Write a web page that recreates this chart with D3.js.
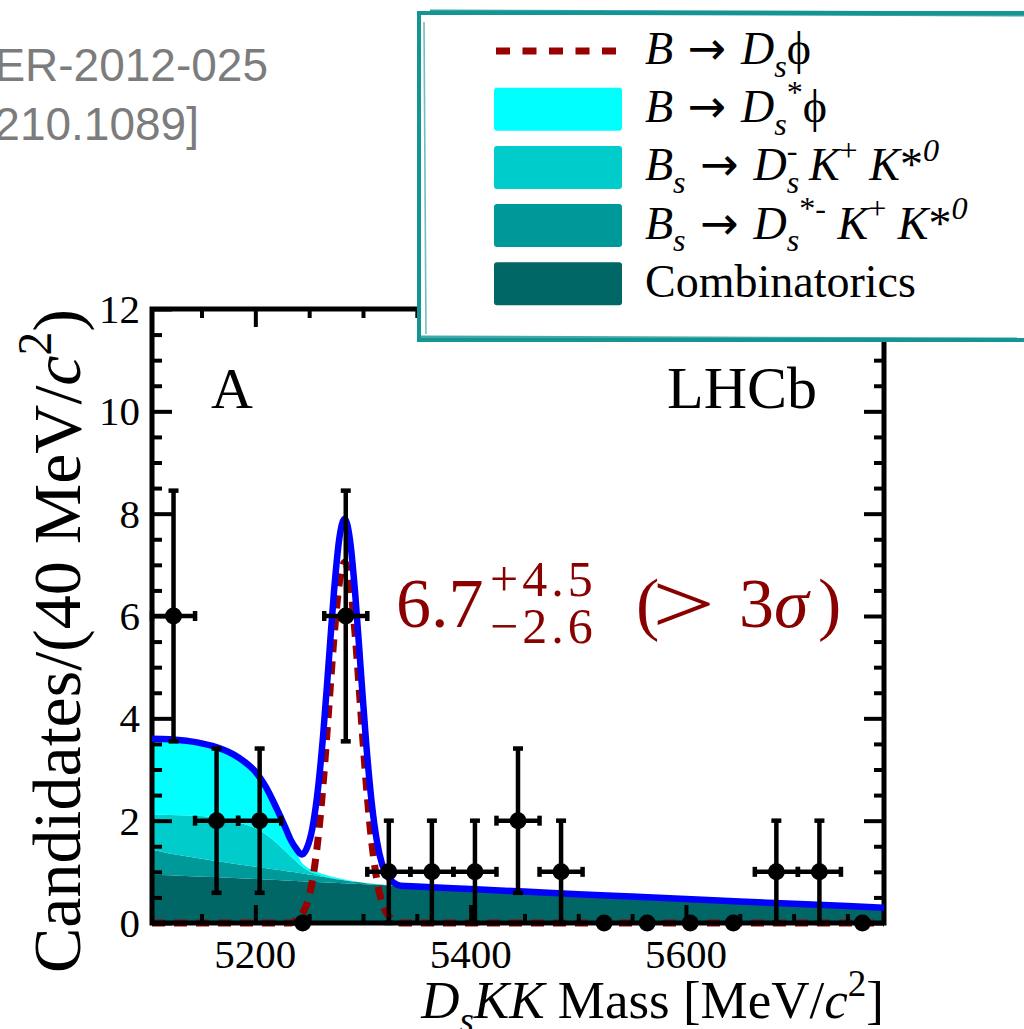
<!DOCTYPE html>
<html><head><meta charset="utf-8">
<script src="https://cdn.jsdelivr.net/npm/d3@7"></script>
<style>body{margin:0;background:#fff} svg{display:block} text{white-space:pre}</style>
</head><body><svg id="c" width="1024" height="1029"></svg>
<script>
// ---------- data ----------
const massGrid = [5104,5120,5140,5160,5180,5190,5200,5210,5220,5228,5233,5238,5243,5248,5253,5258,5263,5268,5273,5278,5283,5288,5293,5298,5303,5308,5313,5318,5323,5328,5335,5350,5400,5450,5500,5550,5600,5650,5700,5750,5784];
const combinatorics = [0.950,0.935,0.916,0.897,0.878,0.869,0.860,0.850,0.840,0.832,0.827,0.822,0.817,0.812,0.807,0.802,0.797,0.792,0.787,0.782,0.777,0.772,0.767,0.762,0.757,0.752,0.747,0.742,0.737,0.732,0.725,0.710,0.662,0.613,0.564,0.516,0.468,0.420,0.377,0.330,0.300];
const bsDsStarKKstar = [0.48,0.425,0.374,0.323,0.282,0.261,0.24,0.22,0.20,0.184,0.173,0.164,0.153,0.141,0.129,0.118,0.106,0.093,0.08,0.068,0.057,0.046,0.037,0.028,0.021,0.015,0.011,0.008,0.006,0.004,0.003,0.002,0.001,0.001,0,0,0,0,0,0,0];
const bsDsKKstar = [0.69,0.75,0.81,0.85,0.83,0.80,0.75,0.66,0.52,0.384,0.30,0.214,0.14,0.087,0.044,0.03,0.017,0.01,0.006,0.004,0.002,0.001,0,0,0,0,0,0,0,0,0,0,0,0,0,0,0,0,0,0,0];
const bDsStarPhi = [1.48,1.48,1.45,1.39,1.30,1.22,1.11,0.92,0.67,0.46,0.32,0.19,0.07,0.05,0.045,0.04,0.035,0.03,0.025,0.02,0.016,0.012,0.009,0.006,0.004,0.003,0.002,0.001,0,0,0,0,0,0,0,0,0,0,0,0,0];
const bDsPhi = [0,0,0,0,0,0,0,0,0,0,0,0.06,0.16,0.38,0.83,1.60,2.72,4.13,5.56,6.64,7.05,6.64,5.56,4.13,2.72,1.60,0.83,0.38,0.16,0.06,0,0,0,0,0,0,0,0,0,0,0];

const binCenters = [5124,5164,5204,5244,5284,5324,5364,5404,5444,5484,5524,5564,5604,5644,5684,5724,5764];
const counts     = [6,2,2,0,6,1,1,1,2,1,0,0,0,0,1,1,0];
const countErr   = [2.45,1.41,1.41,0,2.45,1,1,1,1.41,1,0,0,0,0,1,1,0];
const binHalfWidth = 20;

const xMajorTicks = [5200,5400,5600];
const xMinorTicks = [5150,5250,5300,5350,5450,5500,5550,5650,5700,5750];
const yMajorTicks = [0,2,4,6,8,10,12];
const yMinorTicks = [0.5,1,1.5,2.5,3,3.5,4.5,5,5.5,6.5,7,7.5,8.5,9,9.5,10.5,11,11.5];

const componentKeys = ["comb","dsStarKK","dsKK","dsStarPhi"];
const componentColors = {comb:"#006666", dsStarKK:"#009999", dsKK:"#00cccc", dsStarPhi:"#00ffff"};

const legendEntries = [
  {key:"signal", segs:[{t:"B",it:1},{t:" → "},{t:"D",it:1},{t:"s",it:1,sub:1},{t:"ϕ"}]},
  {key:"dsStarPhi", segs:[{t:"B",it:1},{t:" → "},{t:"D",it:1},{t:"s",it:1,sub:1},{t:"*",sup:1},{t:"ϕ"}]},
  {key:"dsKK", segs:[{t:"B",it:1},{t:"s",it:1,sub:1},{t:" → "},{t:"D",it:1},{t:"s",it:1,sub:1},{t:"-",sup:1,stack:1},{t:" "},{t:"K",it:1},{t:"+",sup:1},{t:" "},{t:"K",it:1},{t:"*"},{t:"0",it:1,sup:1}]},
  {key:"dsStarKK", segs:[{t:"B",it:1},{t:"s",it:1,sub:1},{t:" → "},{t:"D",it:1},{t:"s",it:1,sub:1},{t:"*",sup:1},{t:"-",sup:1},{t:" "},{t:"K",it:1},{t:"+",sup:1},{t:" "},{t:"K",it:1},{t:"*"},{t:"0",it:1,sup:1}]},
  {key:"comb", segs:[{t:"Combinatorics"}]}
];

// ---------- drawing ----------
const svg = d3.select("#c");
svg.append("rect").attr("width",1024).attr("height",1029).attr("fill","#fff");
const serif = "'Liberation Serif','Times New Roman',serif";

const x = d3.scaleLinear().domain([5104,5784]).range([152,884]);
const y = d3.scaleLinear().domain([0,12]).range([923,309]);

function richText(sel, segs, fs){
  let shift = 0, prevW = 0;
  segs.forEach(s=>{
    const small = s.sub||s.sup;
    const target = s.sub ? 0.28*fs : (s.sup ? -0.42*fs : 0);
    const ts = sel.append("tspan").text(s.t).attr("font-size", small?fs*0.7:fs).attr("dy", target-shift);
    if (s.it) ts.style("font-style","italic");
    if (s.t.indexOf("→")>=0) ts.style("font-family","'DejaVu Sans',sans-serif");
    if (s.stack) ts.attr("dx", -prevW);
    shift = target;
    prevW = ts.node().getComputedTextLength();
  });
  if (shift) sel.append("tspan").text("").attr("dy", -shift);
}

// top-left reference text
svg.append("text").attr("x",268).attr("y",81).attr("text-anchor","end")
  .style("font-family","'Liberation Sans',Arial,sans-serif").attr("font-size",46).attr("fill","#7c7c7c").text("ER-2012-025");
svg.append("text").attr("x",199).attr("y",140).attr("text-anchor","end")
  .style("font-family","'Liberation Sans',Arial,sans-serif").attr("font-size",46).attr("fill","#7c7c7c").text("210.1089]");

svg.append("clipPath").attr("id","plotclip").append("rect").attr("x",152).attr("y",309).attr("width",732).attr("height",614);

const rows = massGrid.map((m,i)=>({m, comb:combinatorics[i], dsStarKK:bsDsStarKKstar[i], dsKK:bsDsKKstar[i], dsStarPhi:bDsStarPhi[i], sig:bDsPhi[i]}));
const stacked = d3.stack().keys(componentKeys)(rows);
rows.forEach((r,i)=>{ r.total = stacked[stacked.length-1][i][1] + r.sig; });

const area = d3.area().x(d=>x(d.data.m)).y0(d=>y(d[0])).y1(d=>y(d[1])).curve(d3.curveMonotoneX);
const gFill = svg.append("g").attr("clip-path","url(#plotclip)");
gFill.selectAll("path").data(stacked).join("path")
  .attr("d", area).attr("fill", d=>componentColors[d.key]);

// signal dashed
svg.append("path").datum(rows)
  .attr("d", d3.line().x(d=>x(d.m)).y(d=>y(d.sig)).curve(d3.curveMonotoneX))
  .attr("fill","none").attr("stroke","#990000").attr("stroke-width",7).attr("stroke-dasharray","13,9");

// axes (tick marks from d3 axes, labels as serif text placed by the scales)
function styleAxis(g){ g.select(".domain").remove(); g.selectAll(".tick text").remove();
  g.selectAll(".tick line").attr("stroke","#000").attr("stroke-width",4); }
svg.append("g").attr("transform","translate(0,923)").call(d3.axisBottom(x).tickValues(xMajorTicks).tickSize(-18)).call(styleAxis);
svg.append("g").attr("transform","translate(0,923)").call(d3.axisBottom(x).tickValues(xMinorTicks).tickSize(-9)).call(styleAxis);
svg.append("g").attr("transform","translate(0,309)").call(d3.axisTop(x).tickValues(xMajorTicks).tickSize(-18)).call(styleAxis);
svg.append("g").attr("transform","translate(0,309)").call(d3.axisTop(x).tickValues(xMinorTicks).tickSize(-9)).call(styleAxis);
svg.append("g").attr("transform","translate(152,0)").call(d3.axisLeft(y).tickValues(yMajorTicks).tickSize(-20)).call(styleAxis);
svg.append("g").attr("transform","translate(152,0)").call(d3.axisLeft(y).tickValues(yMinorTicks).tickSize(-10)).call(styleAxis);
svg.append("g").attr("transform","translate(884,0)").call(d3.axisRight(y).tickValues(yMajorTicks).tickSize(-20)).call(styleAxis);
svg.append("g").attr("transform","translate(884,0)").call(d3.axisRight(y).tickValues(yMinorTicks).tickSize(-10)).call(styleAxis);
svg.append("g").selectAll("text").data(xMajorTicks).join("text")
  .attr("x", d=>x(d)).attr("y", 968).attr("text-anchor","middle")
  .attr("font-family", serif).attr("font-size", 41).attr("fill","#000").text(d=>d3.format("d")(d));
svg.append("g").selectAll("text").data(yMajorTicks).join("text")
  .attr("x", 140).attr("y", d=>y(d)+14).attr("text-anchor","end")
  .attr("font-family", serif).attr("font-size", 41).attr("fill","#000").text(d=>d3.format("d")(d));
svg.append("rect").attr("x",152).attr("y",309).attr("width",732).attr("height",614)
  .attr("fill","none").attr("stroke","#000").attr("stroke-width",5);

// total fit
svg.append("path").datum(rows)
  .attr("d", d3.line().x(d=>x(d.m)).y(d=>y(d.total)).curve(d3.curveMonotoneX))
  .attr("fill","none").attr("stroke","#0000ff").attr("stroke-width",6.5).attr("clip-path","url(#plotclip)");

// data points
const gPts = svg.append("g").attr("stroke","#000").attr("fill","#000");
binCenters.forEach((m,i)=>{
  const c = counts[i], e = countErr[i];
  if (c>0){
    const yl = y(c-e), yh = y(c+e), cx = x(m), cy = y(c);
    gPts.append("line").attr("x1",cx).attr("x2",cx).attr("y1",yl).attr("y2",yh).attr("stroke-width",4.5);
    gPts.append("line").attr("x1",cx-5).attr("x2",cx+5).attr("y1",yh).attr("y2",yh).attr("stroke-width",4.5);
    gPts.append("line").attr("x1",cx-5).attr("x2",cx+5).attr("y1",yl).attr("y2",yl).attr("stroke-width",4.5);
    const xl = x(m-binHalfWidth), xr = x(m+binHalfWidth);
    gPts.append("line").attr("x1",xl).attr("x2",xr).attr("y1",cy).attr("y2",cy).attr("stroke-width",4.5);
    gPts.append("line").attr("x1",xl).attr("x2",xl).attr("y1",cy-5).attr("y2",cy+5).attr("stroke-width",4.5);
    gPts.append("line").attr("x1",xr).attr("x2",xr).attr("y1",cy-5).attr("y2",cy+5).attr("stroke-width",4.5);
  }
  gPts.append("circle").attr("cx",x(m)).attr("cy",y(c)).attr("r",8.5).attr("stroke","none");
});

// labels in the plot
svg.append("text").attr("x",211).attr("y",408).style("font-family",serif).attr("font-size",58).text("A");
svg.append("text").attr("x",667).attr("y",408).style("font-family",serif).attr("font-size",60).text("LHCb");

const red = "#880000";
const ann = svg.append("g").attr("fill",red).style("font-family",serif);
ann.append("text").attr("x",396).attr("y",627).attr("font-size",70).text("6.7");
ann.append("text").attr("x",490).attr("y",596).attr("font-size",50).attr("letter-spacing",4).text("+4.5");
ann.append("text").attr("x",490).attr("y",643).attr("font-size",50).attr("letter-spacing",4).text("−2.6");
ann.append("text").attr("x",636).attr("y",627).attr("font-size",70).text("(");
ann.append("text").attr("transform","translate(652,633) scale(1.3,1)").attr("font-size",86).text(">");
ann.append("text").attr("x",739).attr("y",627).attr("font-size",70).text("3");
ann.append("text").attr("x",774).attr("y",627).attr("font-size",70).style("font-style","italic").text("σ");
ann.append("text").attr("x",818).attr("y",627).attr("font-size",70).text(")");

// axis titles
const yt = svg.append("text").attr("transform","translate(80,309) rotate(-90)").attr("text-anchor","end")
  .style("font-family",serif).attr("font-size",68);
richText(yt, [{t:"Candidates/(40 MeV/"},{t:"c",it:1},{t:"2",sup:1},{t:")"}], 68);
const xt = svg.append("text").attr("x",884).attr("y",1018).attr("text-anchor","end")
  .style("font-family",serif).attr("font-size",53);
richText(xt, [{t:"D",it:1},{t:"s",it:1,sub:1},{t:"KK",it:1},{t:" Mass [MeV/"},{t:"c",it:1},{t:"2",sup:1},{t:"]"}], 53);

// legend
const lg = svg.append("g");
lg.append("rect").attr("x",419).attr("y",13).attr("width",640).attr("height",327)
  .attr("fill","#fff").attr("stroke","#159494").attr("stroke-width",4);
lg.append("line").attr("x1",430).attr("x2",1024).attr("y1",12).attr("y2",14).attr("stroke","#159494").attr("stroke-width",5).attr("opacity",0.85);
lg.append("line").attr("x1",424).attr("x2",426).attr("y1",22).attr("y2",334).attr("stroke","#159494").attr("stroke-width",1.6).attr("opacity",0.6);
lg.append("line").attr("x1",421).attr("x2",1024).attr("y1",337).attr("y2",339).attr("stroke","#159494").attr("stroke-width",3).attr("opacity",0.8);
legendEntries.forEach((e,k)=>{
  const cy = 51 + 58.2*k;
  if (e.key==="signal"){
    lg.append("line").attr("x1",496).attr("x2",616).attr("y1",cy).attr("y2",cy)
      .attr("stroke","#990000").attr("stroke-width",7).attr("stroke-dasharray","14,12.5");
  } else {
    lg.append("rect").attr("x",494).attr("y",cy-21.5).attr("width",128).attr("height",43).attr("rx",3)
      .attr("fill",componentColors[e.key]);
  }
  const t = lg.append("text").attr("x",645).attr("y",cy+13).style("font-family",serif).attr("font-size",46);
  richText(t, e.segs, 46);
});
</script></body></html>
